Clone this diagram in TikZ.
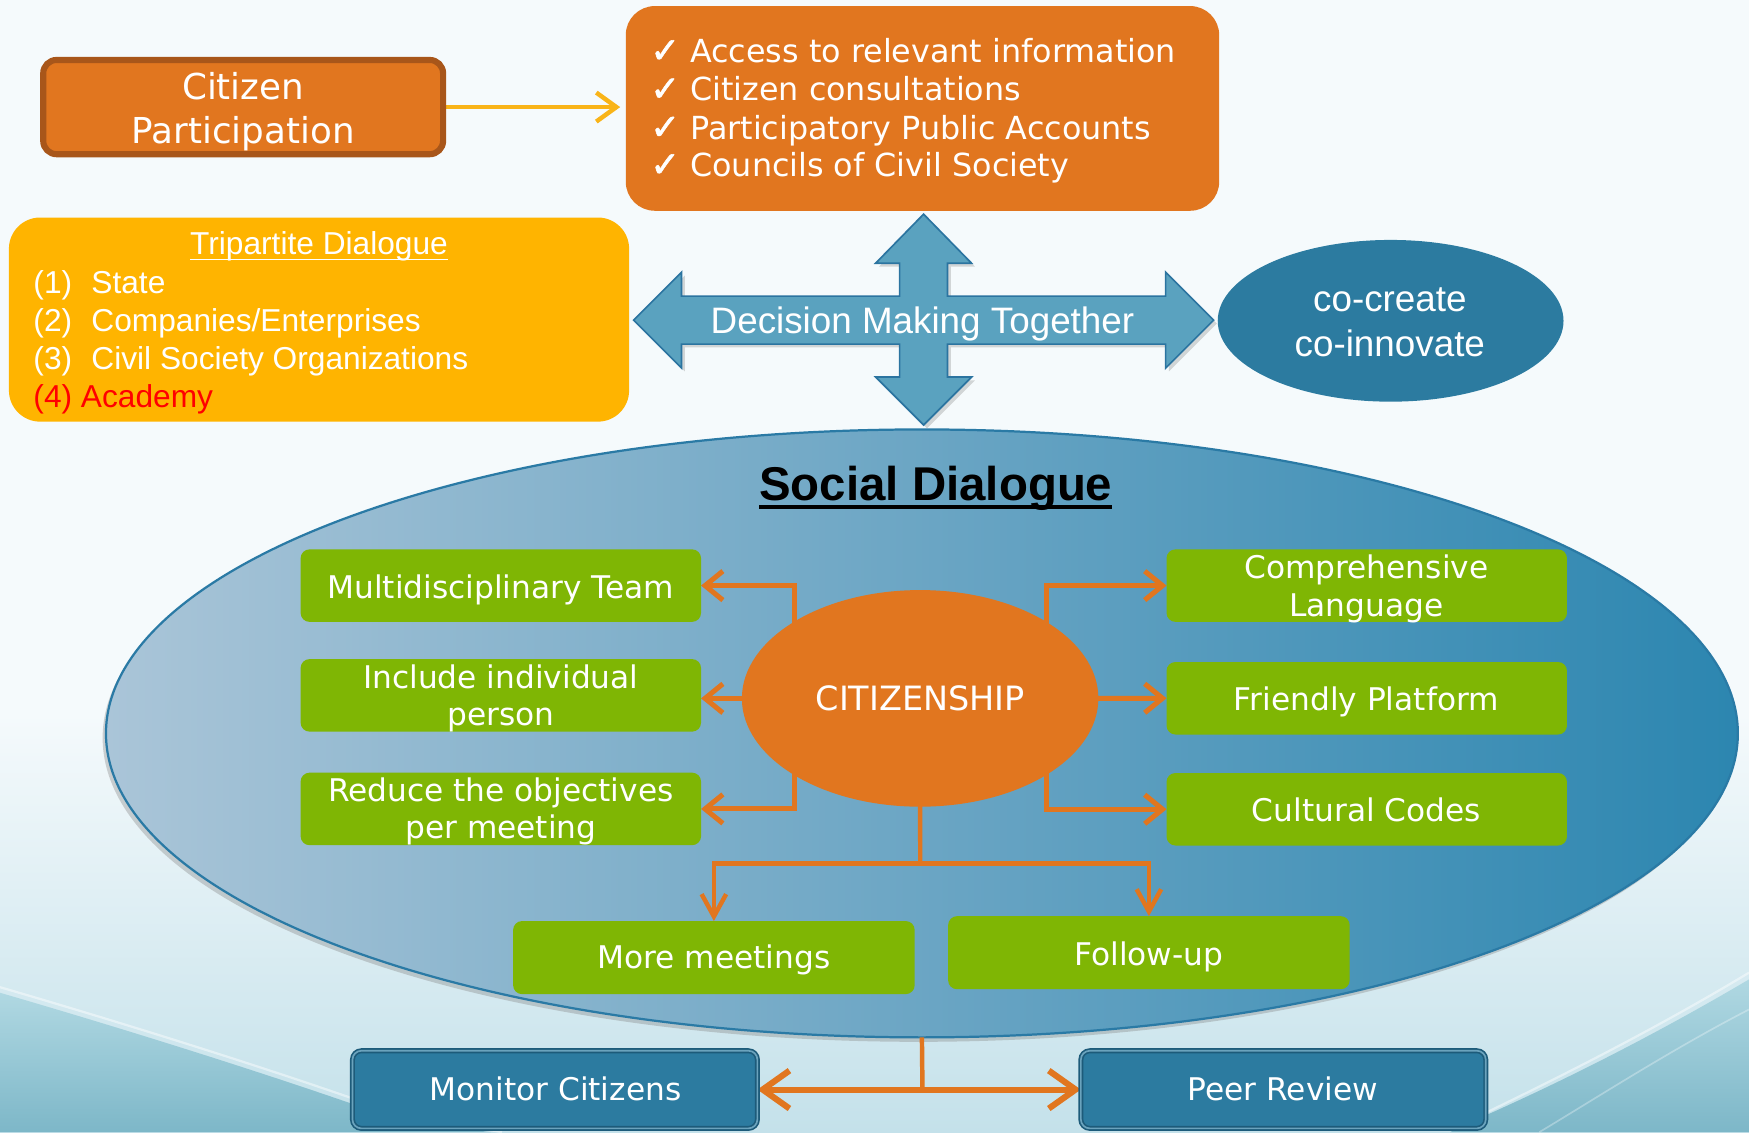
\documentclass[tikz,border=0pt]{standalone}
\usepackage{fontspec}
\setmainfont{DejaVu Sans}
\newfontfamily\arialf{Liberation Sans}
\newfontfamily\chkfont[FakeBold=1.6]{DejaVu Sans}
\usetikzlibrary{arrows.meta,shapes.geometric,shadows}
\pgfdeclarelayer{bg}
\pgfdeclarelayer{mid}
\pgfsetlayers{bg,mid,main}
\definecolor{corange}{HTML}{E1761F}
\definecolor{cbrown}{HTML}{A8561A}
\definecolor{cyellow}{HTML}{FFB400}
\definecolor{cyarrow}{HTML}{F9B418}
\definecolor{cgreen}{HTML}{7FB604}
\definecolor{csteel}{HTML}{2C7BA0}
\definecolor{csteeldark}{HTML}{1D5B7A}
\definecolor{ccross}{HTML}{5AA2BF}
\definecolor{ccrossline}{HTML}{2B74A0}
\definecolor{csdleft}{HTML}{AAC5D8}
\definecolor{csdright}{HTML}{2C86B0}
\definecolor{csdline}{HTML}{2A7AA5}
\definecolor{cbgtop}{HTML}{F5FAFC}
\definecolor{cbgbot}{HTML}{C4E1EA}
\definecolor{cteallight}{HTML}{B0D8E2}
\definecolor{cteal}{HTML}{7DB7C8}
\newcommand{\chkmark}{{\chkfont\scalebox{1.12}{✓}}}
\begin{document}
\begin{tikzpicture}[x=1pt,y=-1pt,
  lbl/.style={inner sep=0, outer sep=0, anchor=base, text=white},
  vfont/.style={font=\fontsize{28}{34}\selectfont},
  gbox/.style={fill=cgreen, rounded corners=8pt, minimum width=359pt, minimum height=65pt, inner sep=0, outer sep=0},
  bbox/.style={fill=csteel, draw=csteeldark, line width=1.5pt, double=csteel!70!white, double distance=1.5pt, rounded corners=8pt, minimum width=363pt, minimum height=69.6pt, inner sep=0, outer sep=0},
  oline/.style={draw=corange, line width=4.5pt},
  oarr/.style={oline, -{Straight Barb[length=16pt,width=26pt]}},
  darr/.style={draw=corange, line width=4pt, -{Straight Barb[length=20pt,width=22pt]}},
  yarr/.style={draw=cyarrow, line width=4pt, -{Straight Barb[length=18pt,width=26pt]}}
]
\useasboundingbox (0,0) rectangle (1568,1015);

% ---------- background ----------
\begin{pgfonlayer}{bg}
\fill[cbgtop] (0,0) rectangle (1568,1015);
\shade[top color=cbgtop, bottom color=cbgbot] (0,640) rectangle (1568,1015);
\shade[top color=cteallight, bottom color=cteal]
  (0,890) .. controls (120,925) and (230,960) .. (314,989) .. controls (360,1002) and (400,1010) .. (440,1015) -- (0,1015) -- cycle;
\draw[white, opacity=0.45, line width=2pt]
  (0,885) .. controls (120,920) and (230,955) .. (314,984) .. controls (360,998) and (410,1008) .. (450,1015);
\shade[top color=cteallight, bottom color=cteal]
  (1568,878) .. controls (1480,930) and (1390,975) .. (1309,1010) -- (1300,1015) -- (1568,1015) -- cycle;
\draw[white, opacity=0.45, line width=2pt]
  (1568,872) .. controls (1480,925) and (1390,970) .. (1300,1013);
\draw[white, opacity=0.3, line width=1.5pt]
  (1568,905) .. controls (1500,940) and (1430,985) .. (1380,1015);

% ---------- social dialogue ellipse ----------
\node[ellipse, draw=csdline, line width=2pt, left color=csdleft, right color=csdright,
  minimum width=1463pt, minimum height=545pt, inner sep=0, outer sep=0,
  drop shadow={shadow xshift=-3pt, shadow yshift=-4pt, opacity=0.35}] (sd) at (826.5,657.5) {};
\end{pgfonlayer}

% ---------- top part ----------
\node[draw=cbrown, line width=5.5pt, fill=corange, rounded corners=12pt,
  minimum width=358.5pt, minimum height=84.5pt, inner sep=0, outer sep=0] (cp) at (218,96) {};
\node[lbl, font=\fontsize{32}{38}\selectfont] (cpt1) at (218,88.8) {Citizen};
\node[lbl, font=\fontsize{32}{38}\selectfont] (cpt2) at (218,128.5) {Participation};

\node[fill=corange, rounded corners=26pt, minimum width=532pt, minimum height=183.5pt,
  inner sep=0, outer sep=0] (chk) at (827,97.2) {};
\begin{scope}[every node/.style={lbl, anchor=base west, font=\fontsize{28.5}{34}\selectfont}]
\node (ck1) at (583,56.2) {\chkmark\ Access to relevant information};
\node (ck2) at (583,90.5) {\chkmark\ Citizen consultations};
\node (ck3) at (583,124.9) {\chkmark\ Participatory Public Accounts};
\node (ck4) at (583,158.4) {\chkmark\ Councils of Civil Society};
\end{scope}

\node[fill=cyellow, rounded corners=28pt, minimum width=556pt, minimum height=183pt,
  inner sep=0, outer sep=0] (tri) at (286,286.5) {};
\node[lbl, font=\arialf\fontsize{28.4}{34}\selectfont] (trt) at (286,228.6) {Tripartite Dialogue};
\draw[white, line width=1.6pt] ([yshift=-4pt]trt.base west) -- ([yshift=-4pt]trt.base east);
\begin{scope}[every node/.style={lbl, anchor=base west, font=\arialf\fontsize{28.4}{34}\selectfont}]
\node (tr1) at (30,263) {\makebox[52pt][l]{(1)}State};
\node (tr2) at (30,297.4) {\makebox[52pt][l]{(2)}Companies/Enterprises};
\node (tr3) at (30,331.1) {\makebox[52pt][l]{(3)}Civil Society Organizations};
\node[text=red] (tr4) at (30,365.2) {(4) Academy};
\end{scope}

% cross arrow
\filldraw[fill=ccross, draw=ccrossline, line width=1.5pt, line join=miter,
  drop shadow={shadow xshift=3pt, shadow yshift=-3pt, opacity=0.3}]
  (568,287) -- (611,244) -- (611,265.5) -- (806.5,265.5) -- (806.5,236) -- (785,236)
  -- (828,192) -- (871,236) -- (849.5,236) -- (849.5,265.5) -- (1045,265.5) -- (1045,244)
  -- (1088,287) -- (1045,330) -- (1045,308.5) -- (849.5,308.5) -- (849.5,338) -- (871,338)
  -- (828,381) -- (785,338) -- (806.5,338) -- (806.5,308.5) -- (611,308.5) -- (611,330) -- cycle;
\node[lbl, font=\arialf\fontsize{33}{38}\selectfont] (dmt) at (827,298.8) {Decision Making Together};

\node[ellipse, fill=csteel, minimum width=310pt, minimum height=145pt, inner sep=0, outer sep=0] (coc) at (1246.7,287.6) {};
\node[lbl, font=\arialf\fontsize{33}{38}\selectfont] (coc1) at (1246,279.4) {co-create};
\node[lbl, font=\arialf\fontsize{33}{38}\selectfont] (coc2) at (1246,319.8) {co-innovate};

% ---------- social dialogue contents ----------
\node[lbl, text=black, font=\arialf\bfseries\fontsize{42.5}{48}\selectfont] (sdt) at (839,448.3) {Social Dialogue};
\draw[black, line width=3.6pt] ([yshift=-6.5pt]sdt.base west) -- ([yshift=-6.5pt]sdt.base east);

\node[ellipse, fill=corange, minimum width=319.6pt, minimum height=194.2pt, inner sep=0, outer sep=0] (cit) at (824.9,626.1) {};
\node[lbl, font=\fontsize{30}{34}\selectfont] (citt) at (825,636.6) {CITIZENSHIP};

\node[gbox] (mt) at (449,525) {};
\node[lbl, vfont] (mtt) at (449,536.4) {Multidisciplinary Team};
\node[gbox] (ib) at (449,623.4) {};
\node[lbl, vfont] (ibt1) at (449,617.1) {Include individual};
\node[lbl, vfont] (ibt2) at (449,650) {person};
\node[gbox] (rd) at (449,725.2) {};
\node[lbl, vfont] (rdt1) at (449,718.7) {Reduce the objectives};
\node[lbl, vfont] (rdt2) at (449,751.6) {per meeting};

\node[gbox] (cl) at (1225.3,525) {};
\node[lbl, vfont] (clt1) at (1225,518.5) {Comprehensive};
\node[lbl, vfont] (clt2) at (1225,552.3) {Language};
\node[gbox] (fp) at (1225.3,626) {};
\node[lbl, vfont] (fpt) at (1225,636.6) {Friendly Platform};
\node[gbox] (cc) at (1225.3,725.5) {};
\node[lbl, vfont] (cct) at (1225,736.1) {Cultural Codes};

\node[gbox, minimum width=360pt, minimum height=65.5pt] (mm) at (640,858.5) {};
\node[lbl, vfont] (mmt) at (640,868.7) {More meetings};
\node[gbox, minimum width=360pt, minimum height=65.5pt] (fu) at (1030,854.1) {};
\node[lbl, vfont] (fut) at (1030,865.2) {Follow-up};

\node[bbox] (mc) at (497.5,976.8) {};
\node[lbl, vfont] (mct) at (498,986.2) {Monitor Citizens};
\node[bbox] (pr) at (1150.5,976.8) {};
\node[lbl, vfont] (prt) at (1150,986.2) {Peer Review};

% ---------- connectors ----------
\coordinate (jn) at (825,774);
\coordinate (jb) at (827,976.8);
\begin{pgfonlayer}{mid}
\draw[yarr, shorten >=5pt] (cp.east) -- (cp.east -| chk.west);
\draw[oarr] ([xshift=-113pt]cit.center) |- (mt.east);
\draw[oarr] (cit.center) -- (cit.center -| ib.east);
\draw[oarr] ([xshift=-113pt]cit.center) |- (rd.east);
\draw[oarr] ([xshift=113pt]cit.center) |- (cl.west);
\draw[oarr] (cit.center) -- (fp.west);
\draw[oarr] ([xshift=113pt]cit.center) |- (cc.west);
\draw[oline, line width=4pt] (cit.center) -- (jn);
\draw[darr] (jn) -| (mm.north);
\draw[darr] (jn) -| (fu.north);
\draw[oline, line width=4pt] (sd.south) -- (jb);
\draw[draw=corange, line width=5.5pt,
  {Straight Barb[length=24pt,width=34pt]}-{Straight Barb[length=24pt,width=34pt]}]
  (mc.east) -- (pr.west);
\end{pgfonlayer}
\end{tikzpicture}
\end{document}
